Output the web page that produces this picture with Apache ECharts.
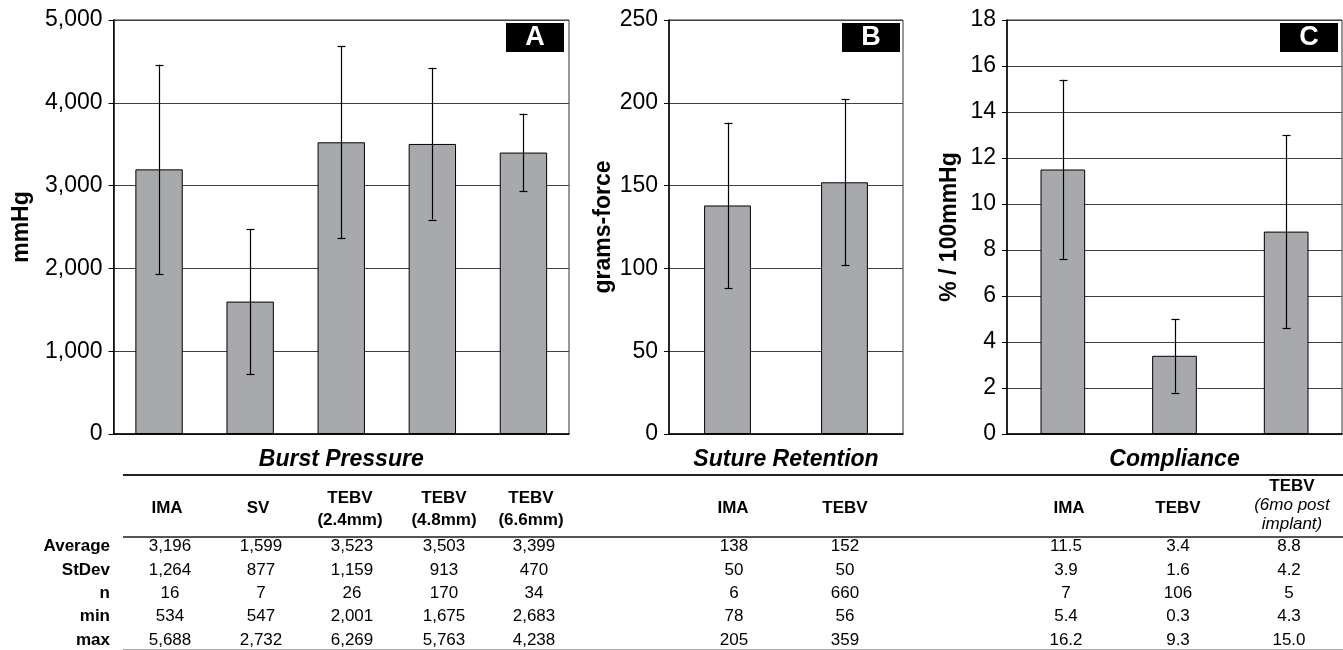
<!DOCTYPE html>
<html><head><meta charset="utf-8">
<script src="https://cdn.jsdelivr.net/npm/echarts@6/dist/echarts.min.js"></script>
<style>html,body{margin:0;padding:0;background:#fff}#c{width:1343px;height:650px}</style>
</head><body><div id="c"></div>
<script>
// ---------- DATA ----------
const burstGroups = ['IMA', 'SV', 'TEBV\n(2.4mm)', 'TEBV\n(4.8mm)', 'TEBV\n(6.6mm)'];
const burstAvg = [3196, 1599, 3523, 3503, 3399];
const burstSd  = [1264, 877, 1159, 913, 470];
const burstN   = [16, 7, 26, 170, 34];
const burstMin = [534, 547, 2001, 1675, 2683];
const burstMax = [5688, 2732, 6269, 5763, 4238];

const sutureGroups = ['IMA', 'TEBV'];
const sutureAvg = [138, 152];
const sutureSd  = [50, 50];
const sutureN   = [6, 660];
const sutureMin = [78, 56];
const sutureMax = [205, 359];

const complGroups = ['IMA', 'TEBV', 'TEBV|(6mo post|implant)'];
const complAvg = [11.5, 3.4, 8.8];
const complSd  = [3.9, 1.6, 4.2];
const complN   = [7, 106, 5];
const complMin = [5.4, 0.3, 4.3];
const complMax = [16.2, 9.3, 15.0];

const rowLabels = ['Average', 'StDev', 'n', 'min', 'max'];
const panelTitles = ['Burst Pressure', 'Suture Retention', 'Compliance'];
const panelLetters = ['A', 'B', 'C'];
const axisNames = ['mmHg', 'grams-force', '% / 100mmHg'];
const yMax = [5000, 250, 18];
const yInterval = [1000, 50, 2];

// ---------- LAYOUT ----------
const FONT = "'Liberation Sans', Arial, Helvetica, sans-serif";
const grids = [
  {left: 113.5, top: 20, width: 455.5, height: 414},
  {left: 669, top: 20, width: 234, height: 414},
  {left: 1007, top: 20, width: 335, height: 414}
];
const barWidths = ['52%', '40%', '40%'];
const nameGaps = [80, 54, 46];
const letterBoxX = [506, 842, 1280];
const colX = [[170, 261, 352, 444, 534], [734, 845], [1066, 1178, 1289]];
const headX = [[167, 258, 350, 444, 531], [733, 845], [1069, 1178, 1292]];
const rowY = [546.5, 569.9, 593.3, 616.7, 640.1];
const titleY = 460;

const chart = echarts.init(document.getElementById('c'), null, {renderer: 'canvas'});

function fmtThousands(v) { return Number(v).toLocaleString('en-US'); }

function errSeries(gi, avg, sd) {
  return {
    type: 'custom', xAxisIndex: gi, yAxisIndex: gi, z: 10, silent: true,
    encode: {x: 0, y: [1, 2]},
    data: avg.map((v, i) => [i, v - sd[i], v + sd[i]]),
    renderItem(params, api) {
      const lo = api.coord([api.value(0), api.value(1)]);
      const hi = api.coord([api.value(0), api.value(2)]);
      const x = Math.round(lo[0]) + 0.5, cap = 4;
      const st = {stroke: '#000', lineWidth: 1.2};
      return {type: 'group', children: [
        {type: 'line', shape: {x1: x, y1: lo[1], x2: x, y2: hi[1]}, style: st},
        {type: 'line', shape: {x1: x - cap, y1: Math.round(lo[1]) + 0.5, x2: x + cap, y2: Math.round(lo[1]) + 0.5}, style: st},
        {type: 'line', shape: {x1: x - cap, y1: Math.round(hi[1]) + 0.5, x2: x + cap, y2: Math.round(hi[1]) + 0.5}, style: st}
      ]};
    }
  };
}

const groupsAll = [burstGroups, sutureGroups, complGroups];
const avgAll = [burstAvg, sutureAvg, complAvg];
const sdAll = [burstSd, sutureSd, complSd];

const xAxes = [], yAxes = [], series = [];
grids.forEach((g, i) => {
  xAxes.push({
    type: 'category', gridIndex: i, data: groupsAll[i],
    axisLine: {lineStyle: {color: '#000', width: 1.5}},
    axisTick: {show: false}, axisLabel: {show: false}
  });
  yAxes.push({
    type: 'value', gridIndex: i, min: 0, max: yMax[i], interval: yInterval[i],
    name: axisNames[i], nameLocation: 'middle', nameRotate: 90, nameGap: nameGaps[i],
    nameTextStyle: {fontFamily: FONT, fontWeight: 'bold', fontSize: 23, color: '#000'},
    axisLine: {show: true, lineStyle: {color: '#000', width: 1.5}},
    axisTick: {show: true, length: 5, lineStyle: {color: '#000', width: 1}},
    axisLabel: {color: '#000', fontSize: 23, fontFamily: FONT, margin: 11,
      formatter: v => i === 0 ? fmtThousands(v) : String(v)},
    splitLine: {show: true, lineStyle: {color: '#404040', width: 1}}
  });
  series.push({
    type: 'bar', xAxisIndex: i, yAxisIndex: i, data: avgAll[i], barWidth: barWidths[i],
    itemStyle: {color: '#a7a9ac', borderColor: '#000', borderWidth: 1}, silent: true
  });
  series.push(errSeries(i, avgAll[i], sdAll[i]));
});

// ---------- graphic: letters, titles, table ----------
const graphic = [];
letterBoxX.forEach((x, i) => {
  graphic.push({type: 'rect', shape: {x: x, y: 23, width: 58, height: 29}, style: {fill: '#000'}, z: 20});
  graphic.push({type: 'text', x: x + 29, y: 38, z: 21,
    style: {text: panelLetters[i], fill: '#fff', font: `bold 27px ${FONT}`, align: 'center', verticalAlign: 'middle', textAlign: 'center', textVerticalAlign: 'middle'}});
});
function txt(s, x, y, font, align) {
  graphic.push({type: 'text', x: x, y: y, z: 20,
    style: {text: s, fill: '#000', font: font, align: align || 'center', verticalAlign: 'middle',
      textAlign: align || 'center', textVerticalAlign: 'middle'}});
}
grids.forEach((g, i) => {
  txt(panelTitles[i], g.left + g.width / 2, titleY, `italic bold 23px ${FONT}`);
});
// lines
const hline = (y, w, c) => graphic.push({type: 'line', z: 5, shape: {x1: 123, y1: y, x2: 1343, y2: y}, style: {stroke: c, lineWidth: w}});
hline(475, 2, '#222');
hline(537, 2, '#555');
hline(649.5, 1, '#aaa');

// headers
const HB = `bold 17px ${FONT}`, HI = `italic 17px ${FONT}`, VF = `17px ${FONT}`;
groupsAll.forEach((grp, p) => {
  grp.forEach((h, j) => {
    const x = headX[p][j];
    if (h.indexOf('|') >= 0) {
      const parts = h.split('|');
      txt(parts[0], x, 486, HB);
      txt(parts[1], x, 505, HI);
      txt(parts[2], x, 524, HI);
    } else if (h.indexOf('\n') >= 0) {
      const parts = h.split('\n');
      txt(parts[0], x, 498, HB);
      txt(parts[1], x, 520, HB);
    } else {
      txt(h, x, 508, HB);
    }
  });
});
rowLabels.forEach((r, k) => txt(r, 110, rowY[k], HB, 'right'));

const rowsAll = [
  [burstAvg, burstSd, burstN, burstMin, burstMax],
  [sutureAvg, sutureSd, sutureN, sutureMin, sutureMax],
  [complAvg, complSd, complN, complMin, complMax]
];
const fmts = [
  (v, k) => fmtThousands(v),
  (v, k) => String(v),
  (v, k) => k === 2 ? String(v) : v.toFixed(1)
];
rowsAll.forEach((rows, p) => {
  rows.forEach((arr, k) => {
    arr.forEach((v, j) => txt(fmts[p](v, k), colX[p][j], rowY[k], VF));
  });
});

chart.setOption({
  animation: false,
  backgroundColor: '#fff',
  grid: grids.map(g => Object.assign({show: true, borderColor: '#333', borderWidth: 1, backgroundColor: 'transparent'}, g)),
  xAxis: xAxes, yAxis: yAxes, series: series, graphic: graphic
});
</script></body></html>
